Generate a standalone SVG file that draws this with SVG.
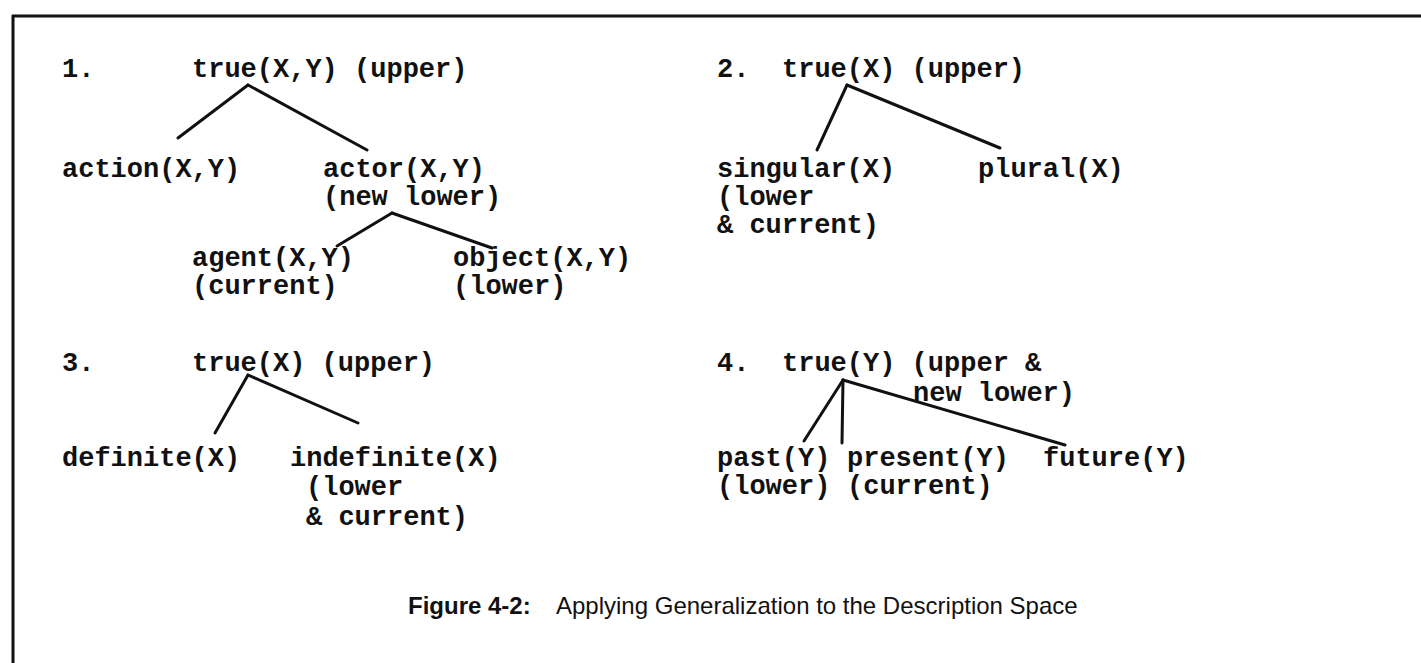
<svg xmlns="http://www.w3.org/2000/svg" width="1421" height="663" viewBox="0 0 1421 663">
<style>
.t{font-family:"Liberation Mono","DejaVu Sans Mono",monospace;font-size:27px;font-weight:bold;fill:#111}
.c{font-family:"Liberation Sans",Arial,sans-serif;font-size:24px;fill:#111}
.e{stroke:#111;stroke-width:3;fill:none;stroke-linecap:round}
.f{stroke:#111;stroke-width:3;fill:none}
</style>
<rect width="1421" height="663" fill="#fff"/>
<g id="frame">
<line class="f" x1="12" y1="16" x2="1421" y2="16"/>
<line class="f" x1="13" y1="15" x2="13" y2="663"/>
</g>
<g id="connectors">
<line class="e" x1="248" y1="85" x2="178" y2="138"/>
<line class="e" x1="248" y1="85" x2="367" y2="150"/>
<line class="e" x1="392" y1="213" x2="337" y2="246"/>
<line class="e" x1="392" y1="213" x2="492" y2="248"/>
<line class="e" x1="847" y1="85" x2="817" y2="150"/>
<line class="e" x1="847" y1="85" x2="1000" y2="148"/>
<line class="e" x1="248" y1="375" x2="215" y2="433"/>
<line class="e" x1="248" y1="375" x2="358" y2="423"/>
<line class="e" x1="843" y1="380" x2="804" y2="441"/>
<line class="e" x1="843" y1="380" x2="842" y2="443"/>
<line class="e" x1="843" y1="380" x2="1065" y2="445"/>
</g>
<g id="label1"><text class="t" x="62" y="77">1.</text></g>
<g id="p1-root"><text class="t" x="192" y="77">true(X,Y) (upper)</text></g>
<g id="p1-action"><text class="t" x="62" y="177">action(X,Y)</text></g>
<g id="p1-actor"><text class="t" x="323" y="177">actor(X,Y)</text><text class="t" x="323" y="205">(new lower)</text></g>
<g id="p1-agent"><text class="t" x="192" y="266">agent(X,Y)</text><text class="t" x="192" y="294">(current)</text></g>
<g id="p1-object"><text class="t" x="453" y="266">object(X,Y)</text><text class="t" x="453" y="294">(lower)</text></g>
<g id="label2"><text class="t" x="717" y="77">2.</text></g>
<g id="p2-root"><text class="t" x="782" y="77">true(X) (upper)</text></g>
<g id="p2-singular"><text class="t" x="717" y="177">singular(X)</text><text class="t" x="717" y="205">(lower</text><text class="t" x="717" y="233">&amp; current)</text></g>
<g id="p2-plural"><text class="t" x="978" y="177">plural(X)</text></g>
<g id="label3"><text class="t" x="62" y="371">3.</text></g>
<g id="p3-root"><text class="t" x="192" y="371">true(X) (upper)</text></g>
<g id="p3-definite"><text class="t" x="62" y="466">definite(X)</text></g>
<g id="p3-indefinite"><text class="t" x="290" y="466">indefinite(X)</text><text class="t" x="306" y="495">(lower</text><text class="t" x="306" y="525">&amp; current)</text></g>
<g id="label4"><text class="t" x="717" y="371">4.</text></g>
<g id="p4-root"><text class="t" x="782" y="371">true(Y) (upper &amp;</text><text class="t" x="913" y="401">new lower)</text></g>
<g id="p4-past"><text class="t" x="717" y="466">past(Y)</text><text class="t" x="717" y="494">(lower)</text></g>
<g id="p4-present"><text class="t" x="847" y="466">present(Y)</text><text class="t" x="847" y="494">(current)</text></g>
<g id="p4-future"><text class="t" x="1043" y="466">future(Y)</text></g>
<g id="caption"><text class="c" x="408" y="614"><tspan font-weight="bold">Figure 4-2:</tspan><tspan x="556">Applying Generalization to the Description Space</tspan></text></g>
</svg>
